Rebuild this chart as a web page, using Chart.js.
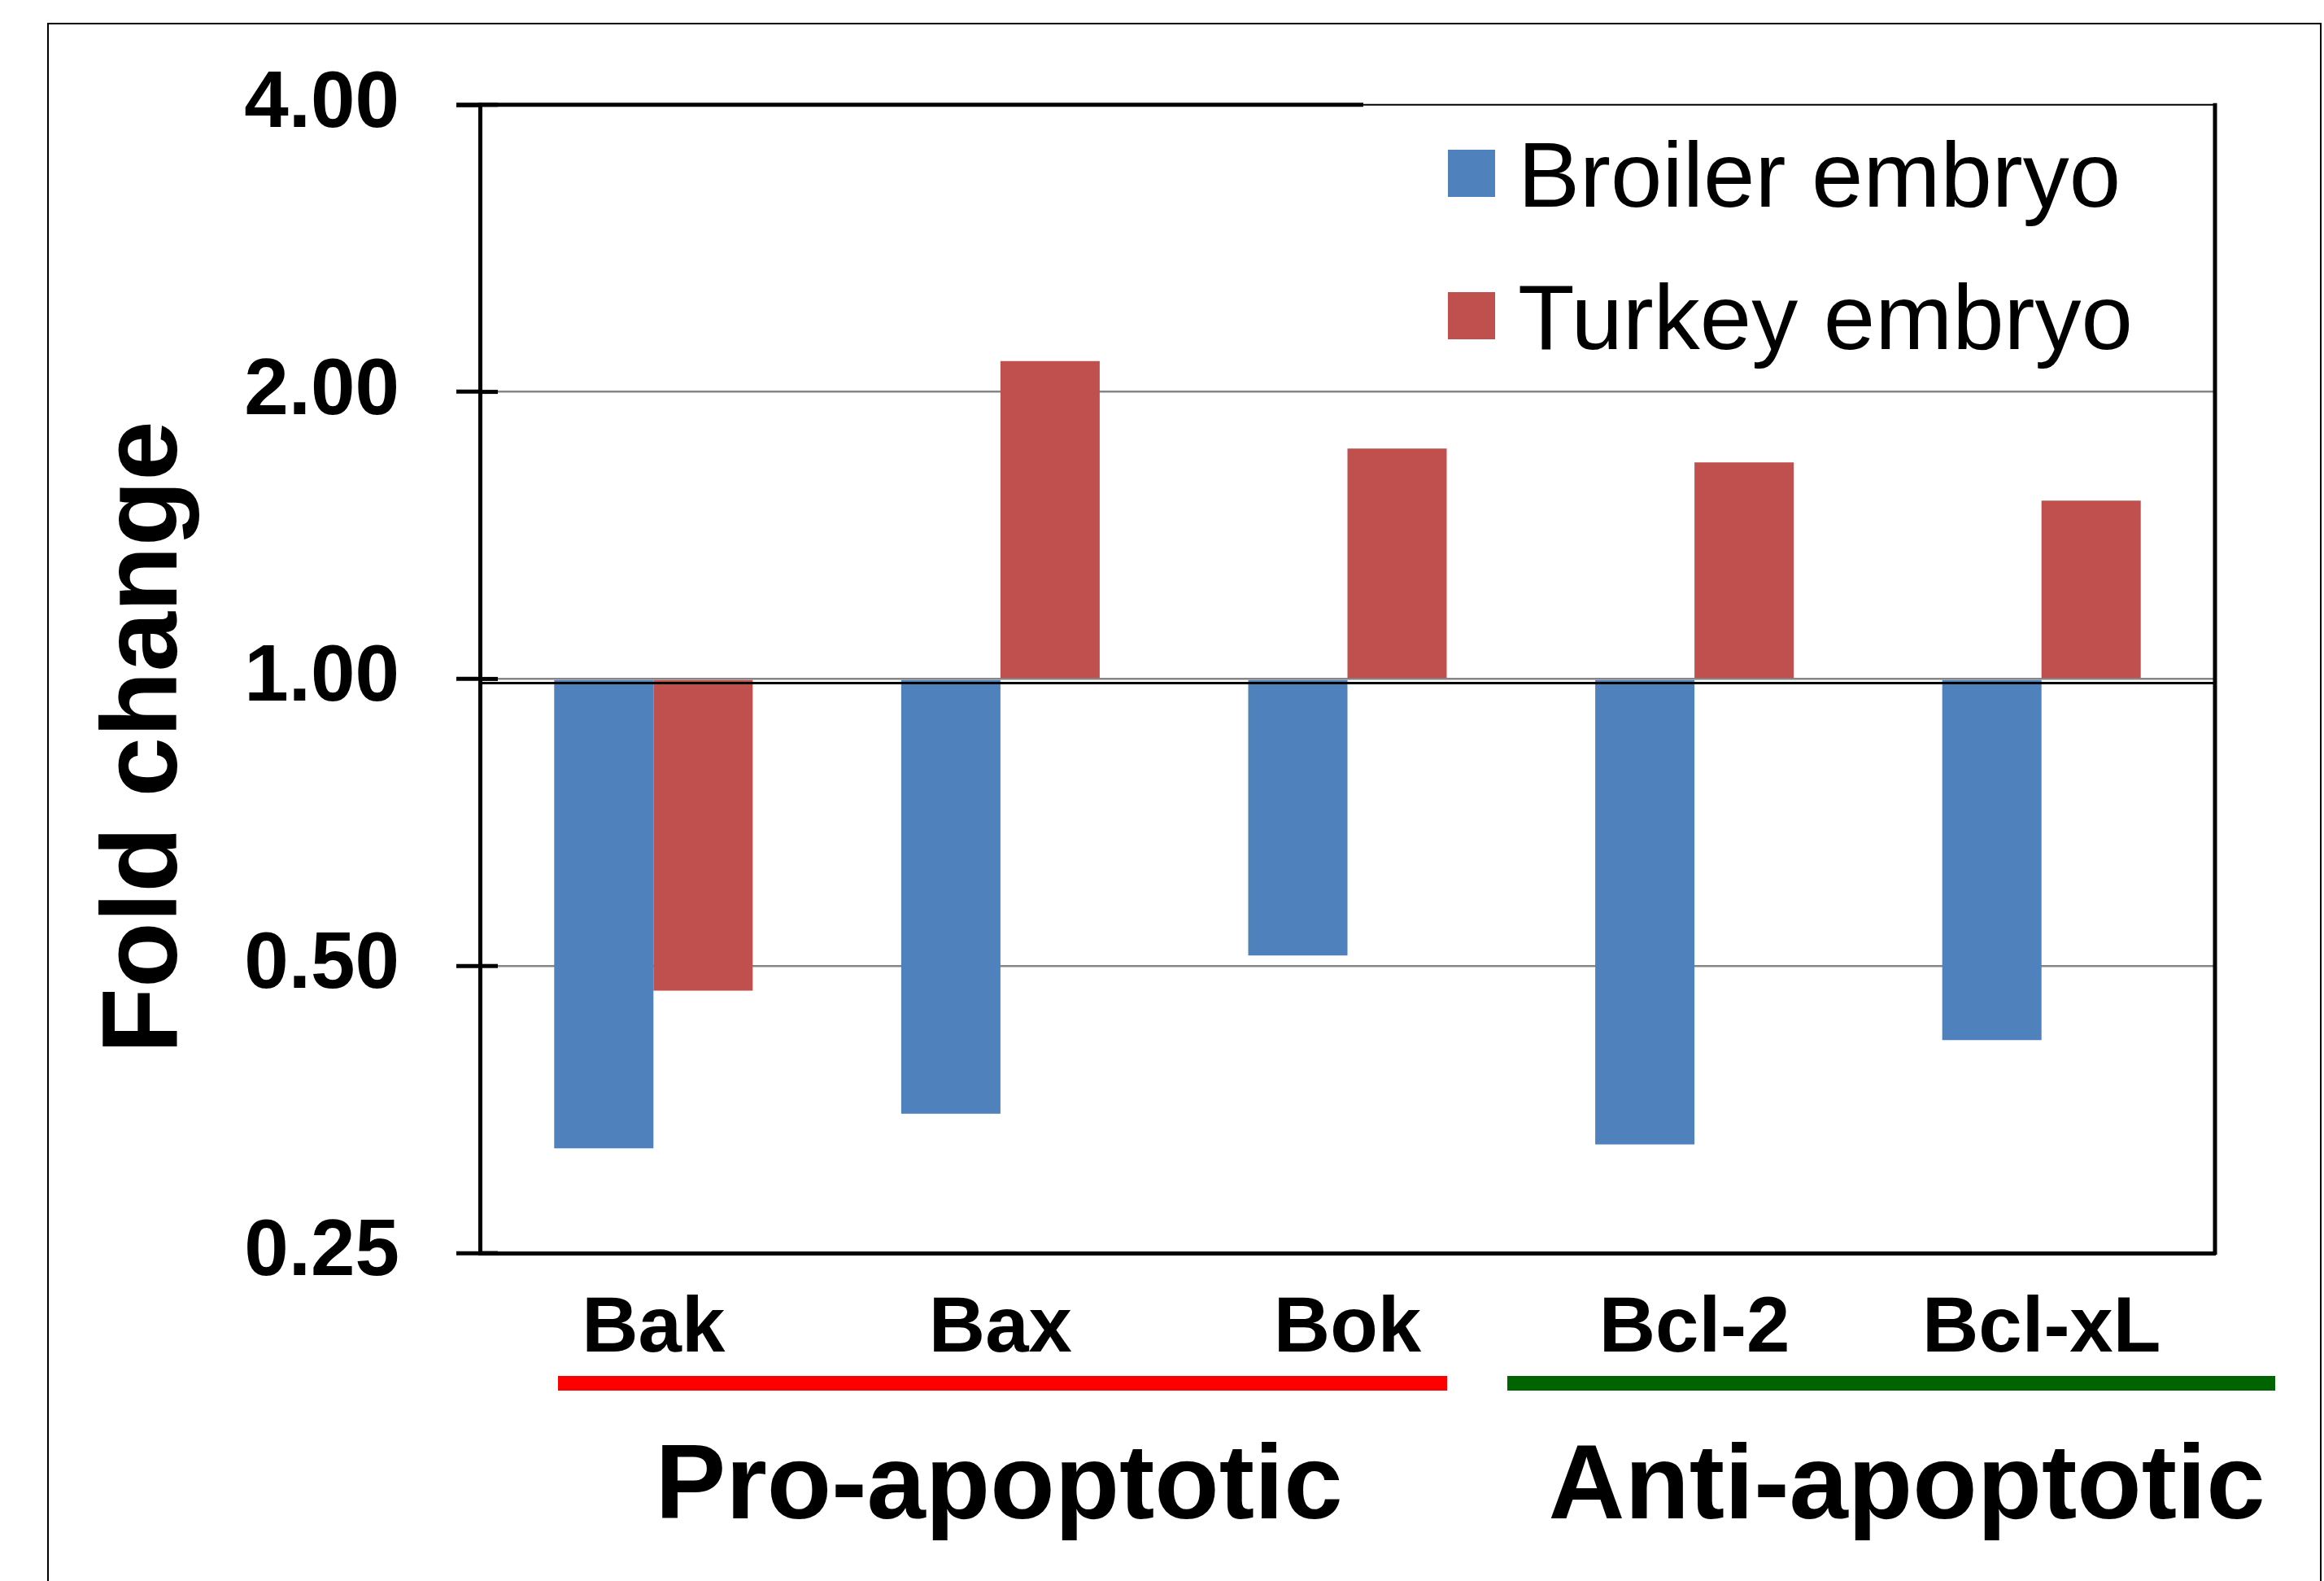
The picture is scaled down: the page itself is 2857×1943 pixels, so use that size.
<!DOCTYPE html>
<html>
<head>
<meta charset="utf-8">
<script src="https://cdn.jsdelivr.net/npm/chart.js@4.4.1/dist/chart.umd.min.js"></script>
<style>
  html, body { margin: 0; padding: 0; background: #ffffff; }
  #wrap { width: 2857px; height: 1943px; }
</style>
</head>
<body>
<div id="wrap"><canvas id="c" width="2857" height="1943"></canvas></div>
<script>
// ---- data ----
const categories = ['Bak', 'Bax', 'Bok', 'Bcl-2', 'Bcl-xL'];
const seriesNames = ['Broiler embryo', 'Turkey embryo'];
const broilerValues = [0.322, 0.350, 0.513, 0.325, 0.418];
const turkeyValues = [0.471, 2.154, 1.744, 1.687, 1.538];
const tickValues = [0.25, 0.5, 1, 2, 4];
const axisTitle = 'Fold change';
const groupNames = ['Pro-apoptotic', 'Anti-apoptotic'];

const FONT = "'Liberation Sans', Arial, Helvetica, sans-serif";
const BLUE = '#4F81BD';
const RED = '#C0504D';

const decorPlugin = {
  id: 'decor',
  afterDraw(chart) {
    const ctx = chart.ctx;
    const ca = chart.chartArea;
    const y = chart.scales.y;
    const x = chart.scales.x;
    ctx.save();

    // outer frame
    ctx.strokeStyle = '#000';
    ctx.lineWidth = 2;
    ctx.strokeRect(59, 29, 2794, 1960);

    // black line across at 1.00 (axis crossing)
    const y1 = y.getPixelForValue(1);
    ctx.lineWidth = 3;
    ctx.beginPath();
    ctx.moveTo(ca.left, y1 + 5);
    ctx.lineTo(ca.right, y1 + 5);
    ctx.stroke();

    // plot top border (thick part, thin part behind legend)
    ctx.lineWidth = 5;
    ctx.beginPath();
    ctx.moveTo(ca.left - 29, ca.top);
    ctx.lineTo(1676, ca.top);
    ctx.stroke();
    ctx.lineWidth = 2;
    ctx.beginPath();
    ctx.moveTo(1676, ca.top);
    ctx.lineTo(ca.right, ca.top);
    ctx.stroke();
    // right border
    ctx.lineWidth = 5;
    ctx.beginPath();
    ctx.moveTo(ca.right, ca.top - 2);
    ctx.lineTo(ca.right, ca.bottom + 2);
    ctx.stroke();

    // inner stubs of y tick marks
    ctx.lineWidth = 5;
    tickValues.forEach(v => {
      const py = y.getPixelForValue(v);
      ctx.beginPath();
      ctx.moveTo(ca.left, py);
      ctx.lineTo(ca.left + 22, py);
      ctx.stroke();
    });

    // y axis title
    ctx.fillStyle = '#000';
    ctx.font = 'bold 132px ' + FONT;
    ctx.textAlign = 'center';
    ctx.textBaseline = 'alphabetic';
    ctx.save();
    ctx.translate(217, 906);
    ctx.rotate(-Math.PI / 2);
    ctx.fillText(axisTitle, 0, 0);
    ctx.restore();

    // legend
    const colors = [BLUE, RED];
    const sq = [[1780, 184], [1780, 359]];
    const base = [254, 429];
    ctx.font = '114px ' + FONT;
    ctx.textAlign = 'left';
    chart.data.datasets.forEach((ds, i) => {
      ctx.fillStyle = colors[i];
      ctx.fillRect(sq[i][0], sq[i][1], 58, 58);
      ctx.fillStyle = '#000';
      ctx.fillText(ds.label, 1866, base[i]);
    });

    // group underlines
    ctx.fillStyle = '#FF0000';
    ctx.fillRect(686, 1691, 1093, 18);
    ctx.fillStyle = '#006400';
    ctx.fillRect(1853, 1691, 944, 18);

    // group labels
    ctx.fillStyle = '#000';
    ctx.font = 'bold 130px ' + FONT;
    ctx.textAlign = 'center';
    ctx.fillText(groupNames[0], 1228, 1866);
    ctx.fillText(groupNames[1], 2344, 1866);

    ctx.restore();
  }
};

new Chart(document.getElementById('c'), {
  type: 'bar',
  data: {
    labels: categories,
    datasets: [
      { label: seriesNames[0], data: broilerValues, base: 1, backgroundColor: BLUE, borderWidth: 0,
        categoryPercentage: 0.572, barPercentage: 1.0 },
      { label: seriesNames[1], data: turkeyValues, base: 1, backgroundColor: RED, borderWidth: 0,
        categoryPercentage: 0.572, barPercentage: 1.0 }
    ]
  },
  options: {
    responsive: false,
    devicePixelRatio: 1,
    animation: false,
    layout: { padding: { left: 0, right: 134, top: 126, bottom: 0 } },
    plugins: {
      legend: { display: false },
      tooltip: { enabled: false },
      title: { display: false }
    },
    scales: {
      x: {
        grid: { display: false, drawTicks: false },
        border: { display: true, color: '#000', width: 5 },
        ticks: {
          color: '#000',
          font: { family: FONT, size: 96, weight: 'bold' },
          padding: 37,
          maxRotation: 0,
          autoSkip: false
        },
        afterFit(scale) { scale.height = 403; }
      },
      y: {
        type: 'logarithmic',
        min: 0.25,
        max: 4,
        afterBuildTicks(scale) {
          scale.ticks = tickValues.map(v => ({ value: v }));
        },
        grid: {
          color: (c) => (c.tick && (c.tick.value === 0.25 || c.tick.value === 4)) ? 'rgba(0,0,0,0)' : '#868686',
          lineWidth: 2.5,
          drawTicks: true,
          tickLength: 29,
          tickColor: '#000',
          tickWidth: 5
        },
        border: { display: true, color: '#000', width: 5 },
        ticks: {
          color: '#000',
          font: { family: FONT, size: 98, weight: 'bold' },
          padding: 70,
          callback: (v) => Number(v).toFixed(2)
        },
        afterFit(scale) { scale.width = 590; }
      }
    }
  },
  plugins: [decorPlugin]
});
</script>
</body>
</html>
